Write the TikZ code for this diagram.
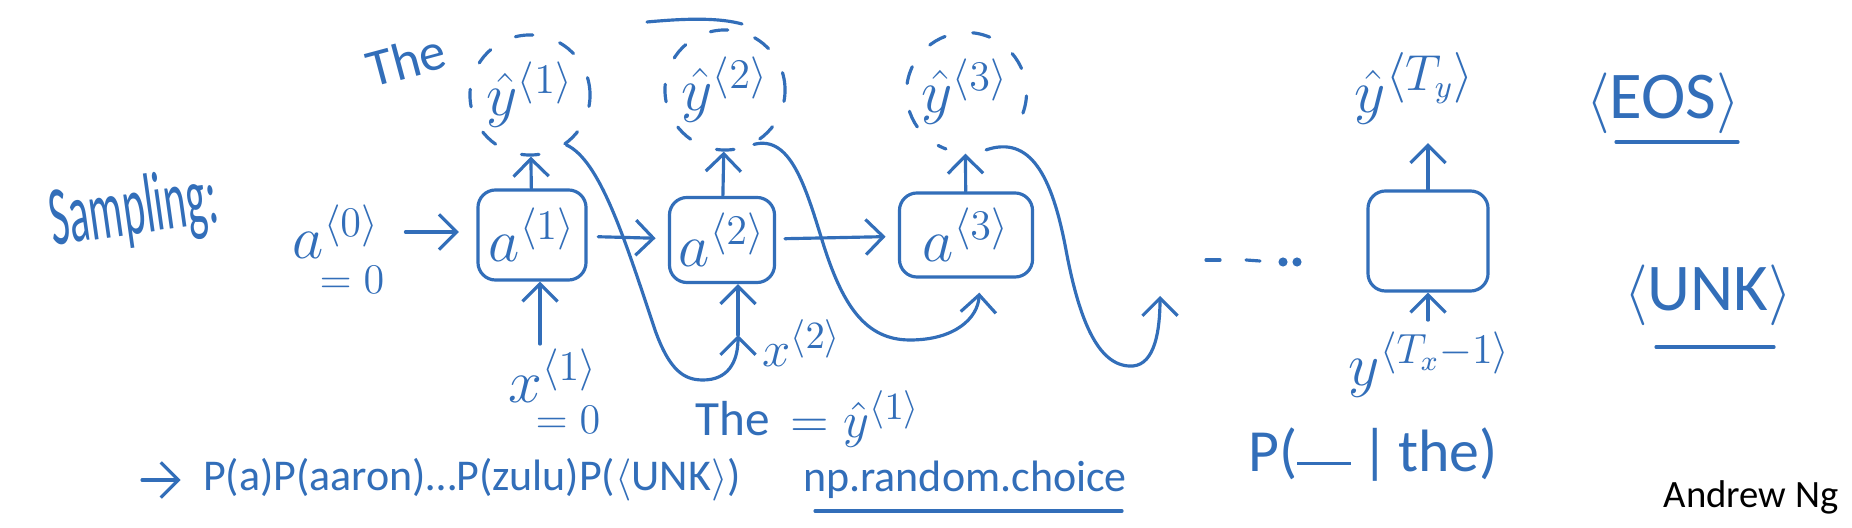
\documentclass[tikz,border=0pt]{standalone}
\usepackage{fontspec}
\setmainfont{Carlito}
\usetikzlibrary{arrows.meta,positioning}
\definecolor{ink}{RGB}{50,110,185}
\tikzstyle{cell}=[draw, rounded corners=5pt, inner sep=0pt, font=\fontsize{17}{19}\selectfont]
\tikzstyle{pred}=[circle, inner sep=0pt, minimum size=1.2cm, font=\fontsize{17}{19}\selectfont]
\tikzstyle{dashy}=[dash pattern=on 5pt off 8pt]
\tikzstyle{hand}=[inner sep=1pt, font=\fontsize{17}{19}\selectfont]
\tikzstyle{small}=[inner sep=0pt, font=\fontsize{13}{15}\selectfont]
\tikzstyle{note}=[inner sep=1pt, font=\fontsize{12.5}{14}\selectfont]
\tikzstyle{harrow}=[-{Straight Barb[length=5pt,width=10pt]}]
\newcommand{\cell}{\node[cell]}
\newcommand{\ang}[1]{^{\langle #1\rangle}}

\begin{document}
\begin{tikzpicture}[x=.01cm, y=.01cm, color=ink, line width=.9pt, line cap=round, line join=round]
\fill[white] (0,0) rectangle (1852,-528);
\useasboundingbox (0,0) rectangle (1852,-528);

% rnn cells
\cell (box1) at (532,-235) [minimum width=1.08cm, minimum height=.9cm] {$a\ang{1}$};
\cell (box2) at (722,-240) [minimum width=1.05cm, minimum height=.85cm] {$a\ang{2}$};
\cell (box3) at (966,-235) [minimum width=1.33cm, minimum height=.84cm] {$a\ang{3}$};
\cell (box4) at (1428,-241) [minimum width=1.2cm, minimum height=1cm] {};

% sampled outputs
\node[pred, draw, dashy] (yhat1) at (530,-95) {$\hat{y}\ang{1}$};
\node[pred, draw, dashy] (yhat2) at (725,-90) {$\hat{y}\ang{2}$};
\node[pred] (yhat3) at (965,-92) {$\hat{y}\ang{3}$};
\draw[dashy] (yhat3.-20) arc[start angle=-20, end angle=250, radius=.6cm];
\node[hand, font=\fontsize{19}{21}\selectfont] (yhatT) at (1415,-88) {$\hat{y}\ang{T_y}$};

% inputs
\node[hand] (a0) at (336,-232) {$a\ang{0}$};
\node[small] (a0val) at (352,-280) {$=0$};
\node[hand] (x1) at (553,-376) {$x\ang{1}$};
\node[small] (x1val) at (568,-420) {$=0$};
\node[hand, inner sep=0pt, font=\fontsize{15}{17}\selectfont] (x2) at (802,-343) {$x\ang{2}$};
\node[small, font=\fontsize{14}{16}\selectfont] (the2) at (733,-419) {The};
\node[small, font=\fontsize{15}{17}\selectfont, right=5pt of the2] (yfed) {$=\hat{y}\ang{1}$};
\node[hand] (yTin) at (1430,-365) {$y\ang{T_x-1}$};

% words
\node[hand, rotate=15, font=\fontsize{15}{17}\selectfont] (the1) at (406,-60) {The};
\node[hand, rotate=8, xscale=.5, font=\fontsize{24}{26}\selectfont] (samp) at (134,-212) {Sampling:};
\node[hand, font=\fontsize{19}{21}\selectfont] (eos) at (1663,-103) {$\langle$EOS$\rangle$};
\node[hand, font=\fontsize{19}{21}\selectfont] (unk) at (1708,-295) {$\langle$UNK$\rangle$};
\node[note] (probs) at (472,-480) {P(a)P(aaron)\ldots P(zulu)P($\langle$UNK$\rangle$)};
\node[note] (npr) at (965,-480) {np.random.choice};
\node[hand] (pnext) at (1373,-455) {P(\rule[.25ex]{.9em}{.7pt}\,|\,the)};
\node[text=black, font=\fontsize{11}{13}\selectfont] (ang) at (1751,-497) {Andrew Ng};

% forward connections
\draw[harrow, shorten <=6pt, shorten >=5pt] (a0.east) -- (a0.east -| box1.west);
\draw[harrow, shorten <=3pt, shorten >=3.5pt] (box1) -- (box2);
\draw[harrow, shorten <=2.5pt, shorten >=3.5pt] (box2) -- (box3);
\draw[harrow] (box1) -- (yhat1);
\draw[harrow] (box2) -- (yhat2);
\draw[harrow] (box3) -- (yhat3);
\draw[harrow, shorten >=4pt] (box4.north) -- (box4.north |- yhatT.south);
\coordinate (in1) at ([xshift=.08cm]box1.south);
\draw[harrow] (in1 |- x1.north) -- (in1);
\draw[harrow, shorten <=2pt] (box4.south |- yTin.north) -- (box4.south);

% feed the sample back in
\coordinate (fb1) at (738,-335);
\draw[harrow] (yhat1.-54) .. controls (600,-160) and (625,-240) .. (655,-330) .. controls (670,-372) and (685,-380) .. (703,-380) .. controls (728,-380) and (738,-362) .. (fb1);
\draw[harrow] (fb1) -- (fb1 |- box2.south);
\draw[harrow, shorten >=4pt] (yhat2.-62) .. controls (790,-135) and (805,-185) .. (822,-240) .. controls (842,-305) and (865,-340) .. (910,-340) .. controls (955,-340) and (978,-318) .. ([xshift=.14cm]box3.south);
\coordinate (fb3) at (1160,-296);
\draw[harrow] (yhat3.-70) .. controls (1030,-135) and (1052,-175) .. (1066,-250) .. controls (1080,-325) and (1100,-368) .. (1133,-366) .. controls (1155,-364) and (1160,-330) .. (fb3);

% strokes
\draw[harrow, shorten >=5pt] (142,-480) -- (probs.west);
\draw (815,-511) -- (1122,-511);
\draw (1616,-142) -- (1738,-142);
\draw (1656,-347) -- (1774,-347);
\draw (647,-22) .. controls (690,-18) and (720,-18) .. (742,-24);
\draw (1206,-260) -- (1220,-260);
\draw (1246,-260) -- (1260,-261);
\fill (1283,-262) circle (1.3pt);
\fill (1297,-262) circle (1.3pt);
\end{tikzpicture}
\end{document}
